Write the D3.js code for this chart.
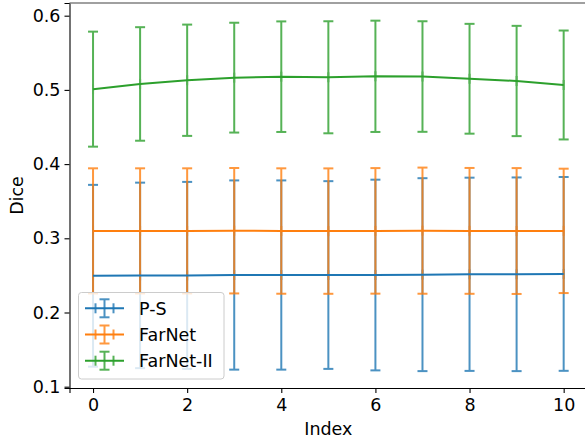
<!DOCTYPE html>
<html>
<head>
<meta charset="utf-8">
<script src="https://cdn.jsdelivr.net/npm/d3@7"></script>
<style>
  html, body { margin: 0; padding: 0; background: #fff; }
  svg { display: block; }
  svg text { font-family: "DejaVu Sans", sans-serif !important; font-size: 17.5px !important; fill: #000; }
</style>
</head>
<body>
<svg id="chart" width="585" height="441"></svg>
<script>
const indices = [0, 1, 2, 3, 4, 5, 6, 7, 8, 9, 10];
const seriesNames = ["P-S", "FarNet", "FarNet-II"];
const colors = ["#1f77b4", "#ff7f0e", "#2ca02c"];

const psMean   = [0.2495, 0.2500, 0.2500, 0.2505, 0.2505, 0.2505, 0.2505, 0.2510, 0.2515, 0.2515, 0.2520];
const psStd    = [0.1225, 0.1250, 0.1260, 0.1275, 0.1275, 0.1265, 0.1285, 0.1300, 0.1302, 0.1305, 0.1306];
const farMean  = [0.3100, 0.3100, 0.3100, 0.3102, 0.3098, 0.3097, 0.3100, 0.3103, 0.3100, 0.3098, 0.3100];
const farStd   = [0.0843, 0.0843, 0.0843, 0.0845, 0.0845, 0.0845, 0.0846, 0.0850, 0.0848, 0.0848, 0.0838];
const far2Mean = [0.5010, 0.5080, 0.5130, 0.5165, 0.5178, 0.5170, 0.5183, 0.5180, 0.5150, 0.5120, 0.5066];
const far2Std  = [0.0775, 0.0765, 0.0750, 0.0740, 0.0745, 0.0755, 0.0750, 0.0745, 0.0740, 0.0743, 0.0734];

const yTicks = [0.1, 0.2, 0.3, 0.4, 0.5, 0.6];
const xTicks = [0, 2, 4, 6, 8, 10];

const means = [psMean, farMean, far2Mean];
const stds = [psStd, farStd, far2Std];

const svg = d3.select("#chart");
const pLeft = 69.5, pRight = 587.2, pTop = 3, pBottom = 388;

const x = d3.scaleLinear().domain([-0.5, 10.5]).range([pLeft, pRight]);
const y = d3.scaleLinear().domain([0.09825, 0.6171]).range([pBottom, pTop]);

const lw = 2, cap = 5, barOpacity = 0.8;

// error bars
const barsG = svg.append("g");
means.forEach((m, s) => {
  const g = barsG.append("g").attr("stroke", colors[s]).attr("stroke-width", lw).attr("opacity", barOpacity);
  indices.forEach((xi, i) => {
    const cx = x(xi), lo = y(m[i] - stds[s][i]), hi = y(m[i] + stds[s][i]);
    g.append("line").attr("x1", cx).attr("x2", cx).attr("y1", lo).attr("y2", hi);
    g.append("line").attr("x1", cx - cap).attr("x2", cx + cap).attr("y1", lo).attr("y2", lo);
    g.append("line").attr("x1", cx - cap).attr("x2", cx + cap).attr("y1", hi).attr("y2", hi);
    g.append("line").attr("x1", cx).attr("x2", cx).attr("y1", y(m[i]) - cap).attr("y2", y(m[i]) + cap);
  });
});

// mean lines
const line = d3.line().x((d, i) => x(indices[i])).y(d => y(d));
means.forEach((m, s) => {
  svg.append("path").datum(m).attr("d", line)
    .attr("fill", "none").attr("stroke", colors[s]).attr("stroke-width", lw);
});

// axes
const xAxis = svg.append("g").attr("transform", `translate(0,${pBottom})`)
  .call(d3.axisBottom(x).tickValues(xTicks).tickFormat(d3.format("d")).tickSizeOuter(0).tickSize(5).tickPadding(6));
const yAxis = svg.append("g").attr("transform", `translate(${pLeft},0)`)
  .call(d3.axisLeft(y).tickValues(yTicks).tickFormat(d3.format(".1f")).tickSizeOuter(0).tickSize(5).tickPadding(4));
[xAxis, yAxis].forEach(a => {
  a.selectAll(".tick line").attr("stroke", "#000").attr("stroke-width", 1.1);
  a.select(".domain").attr("stroke", "#000").attr("stroke-width", 1.1);
});
svg.append("line").attr("x1", pLeft).attr("x2", 585).attr("y1", pTop).attr("y2", pTop)
  .attr("stroke", "#808080").attr("stroke-width", 1.5);

// axis labels
svg.append("text").attr("x", (pLeft + pRight) / 2).attr("y", 435).attr("text-anchor", "middle").text("Index");
svg.append("text").attr("transform", `translate(23,${(pTop + pBottom) / 2}) rotate(-90)`)
  .attr("text-anchor", "middle").text("Dice");

// legend
const lg = svg.append("g");
lg.append("rect").attr("x", 78.5).attr("y", 292.5).attr("width", 145.5).attr("height", 86.5)
  .attr("rx", 3).attr("fill", "#fff").attr("fill-opacity", 0.8).attr("stroke", "#ccc").attr("stroke-width", 1);
seriesNames.forEach((name, s) => {
  const cy = 308.3 + s * 26.2, cx = 104.5;
  const g = lg.append("g").attr("stroke", colors[s]).attr("stroke-width", lw);
  g.append("line").attr("x1", 85).attr("x2", 124).attr("y1", cy).attr("y2", cy);
  const h = g.append("g").attr("opacity", barOpacity);
  h.append("line").attr("x1", cx).attr("x2", cx).attr("y1", cy - 9).attr("y2", cy + 9);
  h.append("line").attr("x1", cx - cap).attr("x2", cx + cap).attr("y1", cy - 9).attr("y2", cy - 9);
  h.append("line").attr("x1", cx - cap).attr("x2", cx + cap).attr("y1", cy + 9).attr("y2", cy + 9);
  h.append("line").attr("x1", cx - 9).attr("x2", cx - 9).attr("y1", cy - cap).attr("y2", cy + cap);
  h.append("line").attr("x1", cx + 9).attr("x2", cx + 9).attr("y1", cy - cap).attr("y2", cy + cap);
  lg.append("text").attr("x", 139).attr("y", cy + 6.3).text(name);
});
</script>
</body>
</html>
